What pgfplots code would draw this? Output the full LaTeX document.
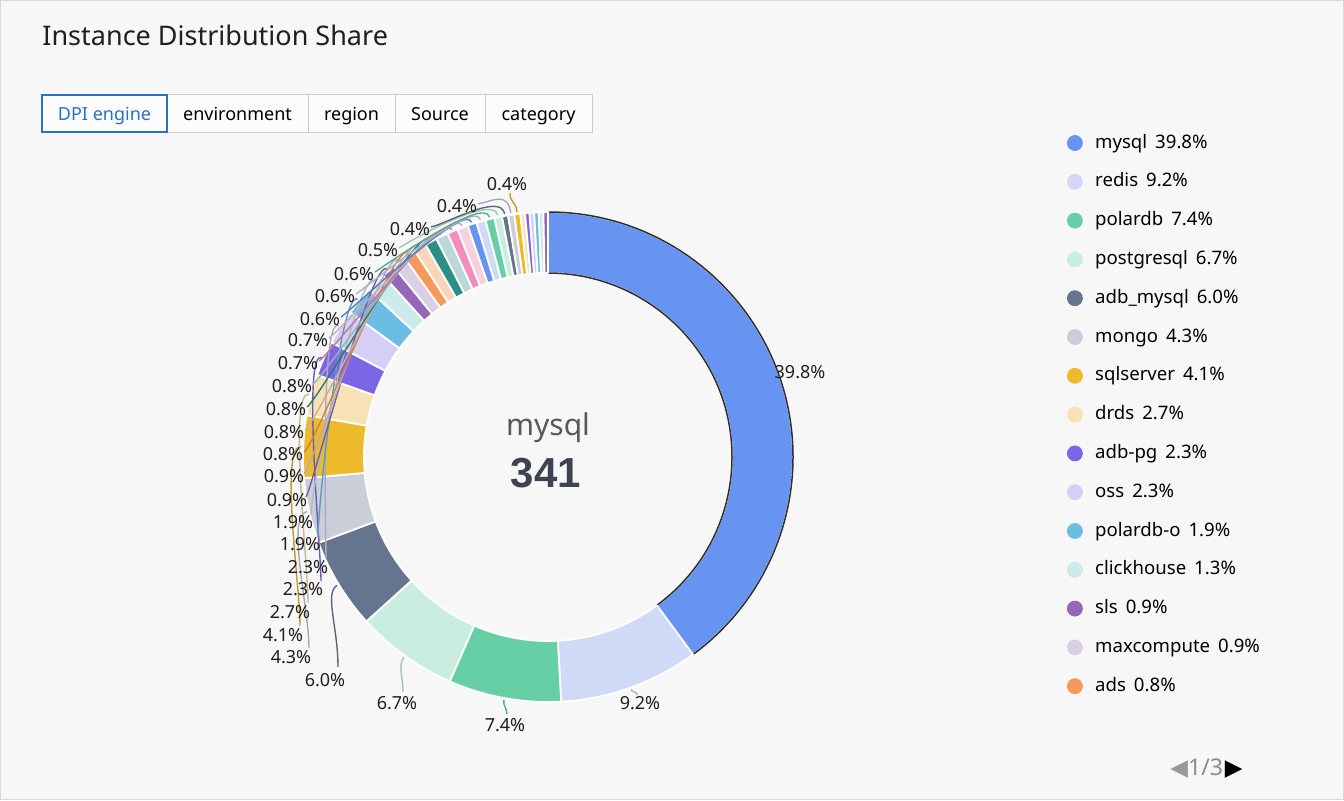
\documentclass[border=0pt]{standalone}
\usepackage{pgfplots}
\pgfplotsset{compat=1.18}
\usepackage{pgfplotstable}
\usepackage{fontspec}
\setmainfont{Noto Sans}
\newfontfamily\symfont{DejaVu Sans}
\newfontfamily\numfont{Liberation Sans}

\definecolor{bg}{HTML}{F7F7F7}
\definecolor{cardline}{HTML}{DADADA}
\definecolor{tabline}{HTML}{CCCCCC}
\definecolor{tabblue}{HTML}{2B72BF}
\definecolor{c1}{HTML}{6694F0}
\definecolor{c2}{HTML}{CFDAF6}
\definecolor{c3}{HTML}{66CFA6}
\definecolor{c4}{HTML}{C9EEDF}
\definecolor{c5}{HTML}{66758F}
\definecolor{c6}{HTML}{C9CED9}
\definecolor{c7}{HTML}{ECBA2A}
\definecolor{c8}{HTML}{F6E2B4}
\definecolor{c9}{HTML}{7B66E6}
\definecolor{c10}{HTML}{D5CEF6}
\definecolor{c11}{HTML}{6CBDE4}
\definecolor{c12}{HTML}{CDEBEA}
\definecolor{c13}{HTML}{9567B8}
\definecolor{c14}{HTML}{DAD0E6}
\definecolor{c15}{HTML}{F59A5A}
\definecolor{c16}{HTML}{FBD5BA}
\definecolor{c17}{HTML}{2B8F85}
\definecolor{c18}{HTML}{BCD7D7}
\definecolor{c19}{HTML}{F08FBF}
\definecolor{c20}{HTML}{F9D0E0}
\definecolor{lgdlav}{HTML}{D6D6F7}
\definecolor{numcol}{HTML}{3D4350}

% share (%), colour, label, label centre (px), leader end (px), end tangent offset (px), start tangent length (px)
\pgfplotstableread[col sep=comma]{
val,col,show,lab,lx,ly,ex,ey,dx,dy,k
39.8,c1,1,39.8,800,372,0,0,0,0,0
9.2,c2,1,9.2,640,703,637,695,0,-4,4
7.4,c3,1,7.4,505,725,507,714,0,-6,6
6.7,c4,1,6.7,397,703,403,692,0,-15,10
6.0,c5,1,6.0,325,680,338,667,0,-40,15
4.3,c6,1,4.3,291,657,309,648,0,-40,22
4.1,c7,1,4.1,283,635,300,626,0,-40,22
2.7,c8,1,2.7,290,612,308,603,0,-40,22
2.3,c9,1,2.3,303,589,321,581,0,-30,22
2.3,c10,1,2.3,308,567,326,559,0,-30,22
1.9,c11,1,1.9,300,544,318,537,0,-30,22
1.3,c12,1,1.9,293,522,311,515,0,-30,22
0.9,c13,1,0.9,287,500,306,497,8,-15,22
0.9,c14,1,0.9,284,476,304,474,10,-10,22
0.8,c15,1,0.8,283,454,304,452,12,-8,22
0.8,c16,1,0.8,284,432,305,430,12,-8,22
0.8,c17,1,0.8,286,409,307,407,12,-8,22
0.8,c18,1,0.8,292,386,313,384,12,-8,22
0.7,c19,1,0.7,298,363,319,361,12,-8,22
0.7,c20,1,0.7,308,340,329,338,12,-8,22
0.6,c1,1,0.6,320,319,341,317,12,-8,22
0.6,c2,1,0.6,335,296,356,294,12,-8,22
0.6,c3,1,0.6,354,274,375,272,12,-8,22
0.5,c4,1,0.5,378,250,399,248,12,-8,22
0.4,c5,1,0.4,410,229,431,227,15,-3,22
0.4,c6,1,0.4,457,206,478,204,15,-3,22
0.4,c7,1,0.4,507,184,510,193,0,10,12
0.3,c8,0,0,0,0,0,0,0,0,0
0.3,c9,0,0,0,0,0,0,0,0,0
0.3,c10,0,0,0,0,0,0,0,0,0
0.3,c11,0,0,0,0,0,0,0,0,0
0.3,c12,0,0,0,0,0,0,0,0,0
0.3,c13,0,0,0,0,0,0,0,0,0
}\donut

\def\Cx{548}
\def\Cy{343}
\def\Ro{245}
\def\Ri{184}

\begin{document}
\begin{tikzpicture}
\begin{axis}[
  x=0.5pt, y=0.5pt, xmin=0, xmax=1344, ymin=0, ymax=800,
  scale only axis, hide axis, clip=false,
  legend image code/.code={\fill[#1] (3.75pt,0pt) circle[radius=3.75pt];},
  legend style={at={(axis cs:1067,666)}, anchor=north west, draw=none, fill=none,
    inner sep=0pt, outer sep=0pt, font=\fontsize{9.3}{11}\selectfont,
    row sep=10.4pt, column sep=6.2pt,
    nodes={inner sep=0pt, text height=7pt, text depth=2pt}},
  legend cell align=left,
]
% card
\path[fill=bg, draw=cardline, line width=0.5pt] (axis cs:0.5,0.5) rectangle (axis cs:1343.5,799.5);
% title
\node[anchor=base west, inner sep=0pt, font=\fontsize{13.5}{16}\selectfont, text=black!88] at (axis cs:42,754) {Instance Distribution Share};
% tabs
\path[fill=white!60!bg, draw=tabline, line width=0.5pt] (axis cs:167,668) rectangle (axis cs:308,705);
\path[fill=white!60!bg, draw=tabline, line width=0.5pt] (axis cs:308,668) rectangle (axis cs:395,705);
\path[fill=white!60!bg, draw=tabline, line width=0.5pt] (axis cs:395,668) rectangle (axis cs:485,705);
\path[fill=white!60!bg, draw=tabline, line width=0.5pt] (axis cs:485,668) rectangle (axis cs:592,705);
\path[fill=white!60!bg, draw=tabblue, line width=0.6pt] (axis cs:42,668) rectangle (axis cs:167,705);
\begin{scope}[every node/.style={anchor=base, inner sep=0pt, font=\fontsize{9}{11}\selectfont}]
\node[text=tabblue] at (axis cs:104.5,680) {DPI engine};
\node at (axis cs:237.5,680) {environment};
\node at (axis cs:351.5,680) {region};
\node at (axis cs:440,680) {Source};
\node at (axis cs:538.5,680) {category};
\end{scope}

\pgfplotsextra{%
  \pgfplotstablegetrowsof{\donut}\pgfmathtruncatemacro\Nrow{\pgfplotsretval-1}%
  \gdef\dtot{0}%
  \foreach \i in {0,...,\Nrow}{\pgfplotstablegetelem{\i}{val}\of\donut\pgfmathsetmacro\tmp{\dtot+\pgfplotsretval}\xdef\dtot{\tmp}}%
  % slices
  \gdef\dcum{0}%
  \foreach \i in {0,...,\Nrow}{%
    \pgfplotstablegetelem{\i}{val}\of\donut\let\dv\pgfplotsretval
    \pgfplotstablegetelem{\i}{col}\of\donut\let\dc\pgfplotsretval
    \pgfmathsetmacro\aa{90-360*(\dcum/\dtot)}%
    \pgfmathsetmacro\ab{90-360*((\dcum+\dv)/\dtot)}%
    \pgfmathsetmacro\xa{\Cx+\Ro*cos(\aa)}\pgfmathsetmacro\ya{\Cy+\Ro*sin(\aa)}%
    \pgfmathsetmacro\xb{\Cx+\Ri*cos(\ab)}\pgfmathsetmacro\yb{\Cy+\Ri*sin(\ab)}%
    \path[fill=\dc, draw=white, line width=0.9pt, line join=round] (axis cs:\xa,\ya) arc[start angle=\aa, end angle=\ab, radius=\Ro*0.5pt] -- (axis cs:\xb,\yb) arc[start angle=\ab, end angle=\aa, radius=\Ri*0.5pt] -- cycle;
    \ifnum\i=0
      \path[draw=black!82, line width=0.75pt, line join=round] (axis cs:\xa,\ya) arc[start angle=\aa, end angle=\ab, radius=\Ro*0.5pt] -- (axis cs:\xb,\yb) arc[start angle=\ab, end angle=\aa, radius=\Ri*0.5pt] -- cycle;
    \fi
    \pgfmathsetmacro\tmp{\dcum+\dv}\xdef\dcum{\tmp}%
  }%
  % leader lines and labels
  \gdef\dcum{0}%
  \foreach \i in {0,...,\Nrow}{%
    \pgfplotstablegetelem{\i}{val}\of\donut\let\dv\pgfplotsretval
    \pgfplotstablegetelem{\i}{col}\of\donut\let\dc\pgfplotsretval
    \pgfplotstablegetelem{\i}{show}\of\donut\let\dshow\pgfplotsretval
    \pgfplotstablegetelem{\i}{lab}\of\donut\let\dlab\pgfplotsretval
    \pgfplotstablegetelem{\i}{lx}\of\donut\let\dlx\pgfplotsretval
    \pgfplotstablegetelem{\i}{ly}\of\donut\let\dly\pgfplotsretval
    \pgfplotstablegetelem{\i}{ex}\of\donut\let\dex\pgfplotsretval
    \pgfplotstablegetelem{\i}{ey}\of\donut\let\dey\pgfplotsretval
    \pgfplotstablegetelem{\i}{dx}\of\donut\let\ddx\pgfplotsretval
    \pgfplotstablegetelem{\i}{dy}\of\donut\let\ddy\pgfplotsretval
    \pgfplotstablegetelem{\i}{k}\of\donut\let\dk\pgfplotsretval
    \pgfmathsetmacro\am{90-360*((\dcum+\dv/2)/\dtot)}%
    \ifnum\dshow=1
      \ifnum\dex>0
        \pgfmathsetmacro\sx{\Cx+(\Ro+2)*cos(\am)}\pgfmathsetmacro\sy{\Cy+(\Ro+2)*sin(\am)}%
        \pgfmathsetmacro\kx{\Cx+(\Ro+2+\dk)*cos(\am)}\pgfmathsetmacro\ky{\Cy+(\Ro+2+\dk)*sin(\am)}%
        \pgfmathsetmacro\qx{\dex+\ddx}\pgfmathsetmacro\qy{800-\dey-\ddy}%
        \pgfmathsetmacro\ty{800-\dey}%
        \draw[\dc!80!black!95, line width=0.7pt] (axis cs:\sx,\sy) .. controls (axis cs:\kx,\ky) and (axis cs:\qx,\qy) .. (axis cs:\dex,\ty);
      \fi
      \pgfmathsetmacro\lyy{800-\dly}%
      \node[font=\fontsize{9}{10}\selectfont, text=black!88, inner sep=0pt] at (axis cs:\dlx,\lyy) {\dlab\%};
    \fi
    \pgfmathsetmacro\tmp{\dcum+\dv}\xdef\dcum{\tmp}%
  }%
}
% centre text
\node[font=\fontsize{15}{17}\selectfont, text=black!65] at (axis cs:548,372) {mysql};
\node[anchor=base, inner sep=0pt, font=\fontsize{21}{25}\selectfont\numfont\bfseries, text=numcol] at (axis cs:546,313) {341};
% pager
\node[anchor=base west, font=\fontsize{11.5}{13}\selectfont, inner sep=0pt] at (axis cs:1170,25) {{\symfont\color{black!40}◀}{\color{black!45}1/3}\hspace{1pt}{\symfont ▶}};

% legend
\addlegendimage{c1}\addlegendentry{mysql\hspace{4pt}39.8\%}
\addlegendimage{lgdlav}\addlegendentry{redis\hspace{4pt}9.2\%}
\addlegendimage{c3}\addlegendentry{polardb\hspace{4pt}7.4\%}
\addlegendimage{c4}\addlegendentry{postgresql\hspace{4pt}6.7\%}
\addlegendimage{c5}\addlegendentry{adb\_mysql\hspace{4pt}6.0\%}
\addlegendimage{c6}\addlegendentry{mongo\hspace{4pt}4.3\%}
\addlegendimage{c7}\addlegendentry{sqlserver\hspace{4pt}4.1\%}
\addlegendimage{c8}\addlegendentry{drds\hspace{4pt}2.7\%}
\addlegendimage{c9}\addlegendentry{adb-pg\hspace{4pt}2.3\%}
\addlegendimage{c10}\addlegendentry{oss\hspace{4pt}2.3\%}
\addlegendimage{c11}\addlegendentry{polardb-o\hspace{4pt}1.9\%}
\addlegendimage{c12}\addlegendentry{clickhouse\hspace{4pt}1.3\%}
\addlegendimage{c13}\addlegendentry{sls\hspace{4pt}0.9\%}
\addlegendimage{c14}\addlegendentry{maxcompute\hspace{4pt}0.9\%}
\addlegendimage{c15}\addlegendentry{ads\hspace{4pt}0.8\%}
\end{axis}
\end{tikzpicture}
\end{document}
